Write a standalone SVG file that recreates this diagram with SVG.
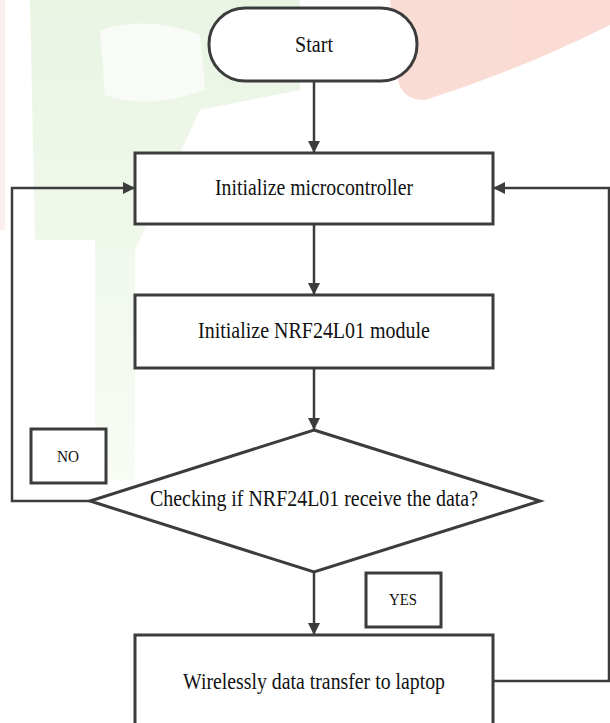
<svg xmlns="http://www.w3.org/2000/svg" width="610" height="723" viewBox="0 0 610 723">
<defs>
<style>
.shape{fill:#ffffff;stroke:#3c3c3c;stroke-width:3}
.wire{fill:none;stroke:#3c3c3c;stroke-width:2.5}
.t{font-family:"Liberation Serif","Times New Roman",serif;font-size:22.5px;fill:#111;text-anchor:middle}
.ts{font-family:"Liberation Serif","Times New Roman",serif;font-size:16.5px;fill:#111;text-anchor:middle}
</style>
<marker id="arr" viewBox="0 0 12 12" refX="11" refY="6" markerWidth="12" markerHeight="12" markerUnits="userSpaceOnUse" orient="auto">
<path d="M0,0 L12,6 L0,12 Z" fill="#3c3c3c"/>
</marker>
<linearGradient id="gr" x1="0" y1="0" x2="0" y2="1">
<stop offset="0" stop-color="#e6f3df"/>
<stop offset="1" stop-color="#f6fbf3"/>
</linearGradient>
</defs>
<rect width="610" height="723" fill="#ffffff"/>
<g id="watermark" opacity="0.85">
<rect x="0" y="0" width="5" height="230" fill="#fcecec"/>
<path d="M30,0 L300,0 L300,90 L200,110 L135,250 L135,480 L95,480 L95,240 L35,240 Z" fill="url(#gr)"/>
<path d="M100,30 Q150,15 200,35 L205,90 Q150,110 105,95 Z" fill="#f8fbf6"/>
<path d="M390,0 L610,0 L610,25 Q520,70 425,100 Q402,100 398,80 Z" fill="#f9d6cd"/>
</g>
<g id="connectors">
<line class="wire" x1="314" y1="81" x2="314" y2="152" marker-end="url(#arr)"/>
<line class="wire" x1="314" y1="224" x2="314" y2="294" marker-end="url(#arr)"/>
<line class="wire" x1="314" y1="368" x2="314" y2="429" marker-end="url(#arr)"/>
<line class="wire" x1="314" y1="572" x2="314" y2="634" marker-end="url(#arr)"/>
<polyline class="wire" points="90,501 12,501 12,188 134,188" marker-end="url(#arr)"/>
<polyline class="wire" points="493,681 609,681 609,188 494,188" marker-end="url(#arr)"/>
</g>
<g id="start">
<rect class="shape" x="209" y="8" width="208" height="73" rx="36" ry="36"/>
<text class="t" x="314" y="52" textLength="38" lengthAdjust="spacingAndGlyphs">Start</text>
</g>
<g id="init-mcu">
<rect class="shape" x="135" y="153" width="358" height="71"/>
<text class="t" x="314" y="195" textLength="198" lengthAdjust="spacingAndGlyphs">Initialize microcontroller</text>
</g>
<g id="init-nrf">
<rect class="shape" x="135" y="295" width="358" height="73"/>
<text class="t" x="314" y="338" textLength="232" lengthAdjust="spacingAndGlyphs">Initialize NRF24L01 module</text>
</g>
<g id="check">
<polygon class="shape" points="314,430 540,501 314,572 90,501"/>
<text class="t" x="314" y="506" textLength="328" lengthAdjust="spacingAndGlyphs">Checking if NRF24L01 receive the data?</text>
</g>
<g id="no-label">
<rect class="shape" x="31" y="429" width="75" height="54"/>
<text class="ts" x="68" y="462" textLength="22" lengthAdjust="spacingAndGlyphs">NO</text>
</g>
<g id="yes-label">
<rect class="shape" x="366" y="573" width="75" height="54"/>
<text class="ts" x="403" y="605" textLength="28" lengthAdjust="spacingAndGlyphs">YES</text>
</g>
<g id="transfer">
<rect class="shape" x="135" y="635" width="358" height="110"/>
<text class="t" x="314" y="689" textLength="262" lengthAdjust="spacingAndGlyphs">Wirelessly data transfer to laptop</text>
</g>
</svg>
